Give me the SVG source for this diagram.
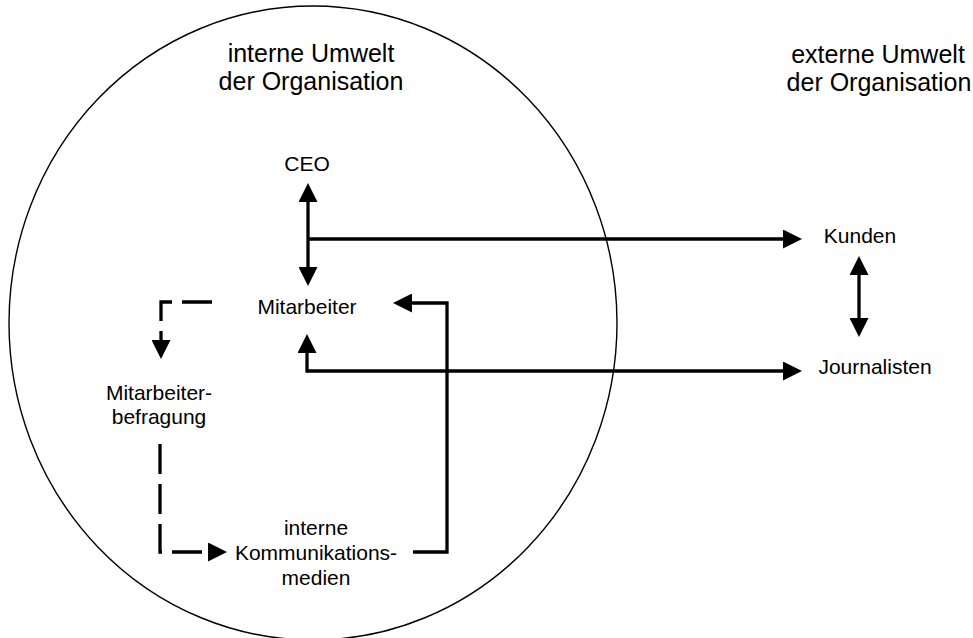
<svg xmlns="http://www.w3.org/2000/svg" width="973" height="638" viewBox="0 0 973 638">
<style>
text{font-family:"Liberation Sans",Arial,sans-serif;fill:#000;text-anchor:middle}
.h{font-size:25px}
.n{font-size:21px}
.c{fill:none;stroke:#000;stroke-width:3.3;stroke-linejoin:miter}
.d{stroke-dasharray:30 10}
.a2{marker-start:url(#ah);marker-end:url(#ah)}
.a1{marker-end:url(#ah)}
</style>
<defs>
<marker id="ah" markerUnits="userSpaceOnUse" viewBox="0 0 19 19" markerWidth="19" markerHeight="19" refX="0" refY="9.5" orient="auto-start-reverse">
<path d="M0,0 L19,9.5 L0,19 Z" fill="#000"/>
</marker>
</defs>
<rect width="973" height="638" fill="#fff"/>
<g id="organisation">
<ellipse cx="313" cy="323" rx="304" ry="317" fill="none" stroke="#000" stroke-width="1.4"/>
</g>
<g id="intern-label"><text x="311" y="62" class="h">interne Umwelt</text><text x="311" y="90" class="h">der Organisation</text></g>
<g id="extern-label"><text x="878" y="63" class="h">externe Umwelt</text><text x="879" y="91" class="h">der Organisation</text></g>
<g id="ceo"><text x="307" y="171" class="n">CEO</text></g>
<g id="mitarbeiter"><text x="307" y="314" class="n">Mitarbeiter</text></g>
<g id="befragung"><text x="159" y="400" class="n">Mitarbeiter-</text><text x="159" y="424" class="n">befragung</text></g>
<g id="medien"><text x="316" y="535" class="n">interne</text><text x="316" y="560" class="n">Kommunikations-</text><text x="316" y="585" class="n">medien</text></g>
<g id="kunden"><text x="860" y="243" class="n">Kunden</text></g>
<g id="journalisten"><text x="875" y="374" class="n">Journalisten</text></g>
<g id="connectors">
<path class="c a2" d="M308,202 V267"/>
<path class="c a1" d="M308,239 H783"/>
<path class="c a2" d="M307,353 V371 H783"/>
<path class="c a1" d="M413,552 H447 V303 H412"/>
<path class="c a2" d="M859,275 V318"/>
<path class="c d a1" d="M212,302 H161 V340"/>
<path class="c d a1" d="M160,444 V552 H208"/>
</g>
</svg>
